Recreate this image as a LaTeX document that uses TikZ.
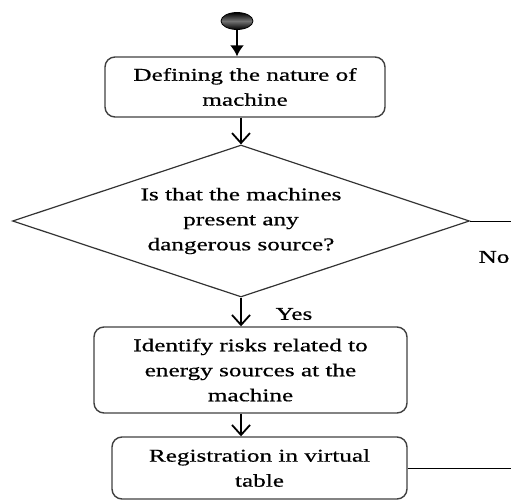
\documentclass[tikz,border=0pt]{standalone}
\usepackage{fontspec}
\setmainfont{Liberation Serif}[FakeStretch=1.4,FakeBold=0.6]
\usetikzlibrary{shapes,arrows.meta}
\tikzstyle{initial}=[ellipse,
	draw=black,
	line width=0.8pt,
	minimum width=32pt,
	minimum height=17pt,
	top color=black,
	bottom color=black,
	middle color=black!55]
\tikzstyle{activity}=[rectangle,
	rounded corners=10pt,
	draw=black!75,
	line width=1.4pt,
	align=center,
	inner sep=0pt,
	font=\fontsize{18}{25}\selectfont]
\tikzstyle{decision}=[diamond,
	aspect=3,
	draw=black!80,
	line width=1.2pt,
	align=center,
	inner sep=0pt,
	minimum width=457pt,
	minimum height=152pt,
	font=\fontsize{18}{25}\selectfont]
\tikzstyle{guard}=[font=\fontsize{18}{25}\selectfont, inner sep=0pt]
\tikzstyle{flow}=[line width=1.8pt, -{Straight Barb[length=10pt,width=18pt]}]

\begin{document}
\begin{tikzpicture}[x=1pt,y=-1pt]
					\useasboundingbox (0,0) rectangle (511,500);
					\clip (0,0) rectangle (511,500);
					\node (start) [initial] at (237,21) {};
					\node (nature) [activity, minimum width=280pt, minimum height=60pt] at (245,87) {Defining the nature of\\machine};
					\draw[line width=1.8pt, -{Latex[length=11pt,width=14pt]}] (start.south) -- (start.south |- nature.north);
					\node (danger) [decision] at (241,221) {Is that the machines\\present any\\dangerous source?};
					\draw[flow] (danger.north |- nature.south) -- (danger.north);
					\coordinate (noend) at (511,221);
					\draw[line width=1pt] (danger.east) -- (noend);
					\node (no) [guard] at (494,257) {No};

					\node (risks) [activity, minimum width=313pt, minimum height=86pt] at (250.5,370) {Identify risks related to\\energy sources at the\\machine};
					\draw[flow] (danger.south) -- (danger.south |- risks.north);
					\node (yes) [guard] at (294,314) {Yes};
					\node (regist) [activity, minimum width=295pt, minimum height=62pt] at (259.5,468) {Registration in virtual\\table};
					\draw[flow] (danger.south |- risks.south) -- (danger.south |- regist.north);
					\coordinate (regend) at (511,468);
					\draw[line width=1pt] (regist.east) -- (regend);
				\end{tikzpicture}
\end{document}
